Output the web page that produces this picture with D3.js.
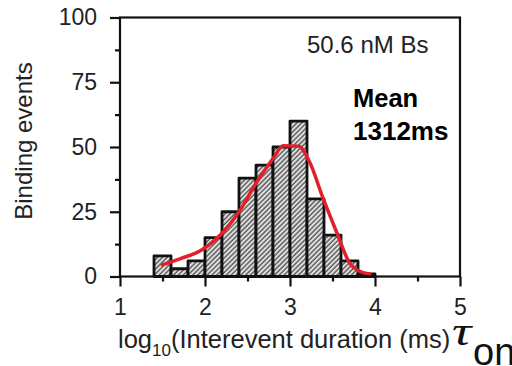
<!DOCTYPE html>
<html>
<head>
<meta charset="utf-8">
<script src="https://cdn.jsdelivr.net/npm/d3@7"></script>
<style>
  body { margin: 0; background: #fff; }
  svg { display: block; font-family: "Liberation Sans", Arial, sans-serif; }
</style>
</head>
<body>
<svg id="chart" width="512" height="366"></svg>
<script>
// histogram bins (left edge, log10 ms) and counts
let binStarts = [1.4, 1.6, 1.8, 2.0, 2.2, 2.4, 2.6, 2.8, 3.0, 3.2, 3.4, 3.6, 3.8];
let binCounts = [8, 3, 6, 15, 25, 38, 43, 50, 60, 30, 16, 6, 1];
let binWidth = 0.2;

// red fitted curve
let fitX = [1.50, 1.72, 1.95, 2.18, 2.40, 2.60, 2.80, 2.92, 3.10, 3.24, 3.38, 3.55, 3.70, 3.82, 3.94];
let fitY = [4.5, 7, 10, 16, 25, 36, 45.5, 50.5, 50.3, 43.5, 31, 17, 5.3, 2, 1];

let xTicks = [1, 2, 3, 4, 5];
let xMinorTicks = [1.5, 2.5, 3.5, 4.5];
let yTicks = [0, 25, 50, 75, 100];
let yMinorTicks = [12.5, 37.5, 62.5, 87.5];

let plotLeft = 120, plotRight = 460, plotTop = 17.5, plotBottom = 276.5;

let svg = d3.select("#chart");

let xScale = d3.scaleLinear().domain([1, 5]).range([plotLeft, plotRight]);
let yScale = d3.scaleLinear().domain([0, 100]).range([plotBottom, plotTop]);

// hatch pattern for bars
let pattern = svg.append("defs").append("pattern")
  .attr("id", "hatch")
  .attr("patternUnits", "userSpaceOnUse")
  .attr("width", 3.4)
  .attr("height", 3.4)
  .attr("patternTransform", "rotate(45)");
pattern.append("rect").attr("width", 3.4).attr("height", 3.4).attr("fill", "#e0e0e0");
pattern.append("line")
  .attr("x1", 1).attr("y1", 0).attr("x2", 1).attr("y2", 3.4)
  .attr("stroke", "#333").attr("stroke-width", 1.1);

let bins = binStarts.map((s, i) => ({start: s, count: binCounts[i]}));

svg.append("g").selectAll("rect").data(bins).enter().append("rect")
  .attr("x", d => xScale(d.start))
  .attr("y", d => yScale(d.count))
  .attr("width", d => xScale(d.start + binWidth) - xScale(d.start))
  .attr("height", d => yScale(0) - yScale(d.count))
  .attr("fill", "url(#hatch)")
  .attr("stroke", "#111")
  .attr("stroke-width", 2.8)
  .attr("stroke-linejoin", "round");

let fit = fitX.map((x, i) => [x, fitY[i]]);
let line = d3.line()
  .x(d => xScale(d[0]))
  .y(d => yScale(d[1]))
  .curve(d3.curveMonotoneX);

svg.append("path")
  .datum(fit)
  .attr("d", line)
  .attr("fill", "none")
  .attr("stroke", "#e3202a")
  .attr("stroke-width", 3.5)
  .attr("stroke-linejoin", "round")
  .attr("stroke-linecap", "round");

// frame
svg.append("rect")
  .attr("x", plotLeft).attr("y", plotTop)
  .attr("width", plotRight - plotLeft).attr("height", plotBottom - plotTop)
  .attr("fill", "none")
  .attr("stroke", "#111")
  .attr("stroke-width", 2.2);

function styleAxis(g) {
  g.select(".domain").remove();
  g.selectAll(".tick line").attr("stroke", "#111").attr("stroke-width", 2.2);
  g.selectAll(".tick text")
    .attr("fill", "#222")
    .style("font-size", "23px")
    .style("font-family", "'Liberation Sans', Arial, sans-serif");
}

let yAxis = d3.axisLeft(yScale).tickValues(yTicks).tickFormat(d3.format("d"))
  .tickSizeInner(10).tickSizeOuter(0).tickPadding(13);
svg.append("g").attr("transform", "translate(" + plotLeft + ",0)").call(yAxis).call(styleAxis);

let yMinor = d3.axisLeft(yScale).tickValues(yMinorTicks).tickSize(5).tickFormat("");
svg.append("g").attr("transform", "translate(" + plotLeft + ",0)").call(yMinor).call(styleAxis);

let xAxis = d3.axisBottom(xScale).tickValues(xTicks).tickFormat(d3.format("d"))
  .tickSizeInner(10).tickSizeOuter(0).tickPadding(12.5);
svg.append("g").attr("transform", "translate(0," + plotBottom + ")").call(xAxis).call(styleAxis);

let xMinor = d3.axisBottom(xScale).tickValues(xMinorTicks).tickSize(5).tickFormat("");
svg.append("g").attr("transform", "translate(0," + plotBottom + ")").call(xMinor).call(styleAxis);

// axis titles
svg.append("text")
  .attr("transform", "translate(32,141) rotate(-90)")
  .attr("text-anchor", "middle")
  .attr("fill", "#222")
  .style("font-size", "24px")
  .text("Binding events");

let xTitle = svg.append("text")
  .attr("x", 118).attr("y", 348)
  .attr("fill", "#222")
  .style("font-size", "25.5px");
xTitle.append("tspan").text("log");
xTitle.append("tspan").attr("dy", 8).style("font-size", "17px").text("10");
xTitle.append("tspan").attr("dy", -8).text("(Interevent duration (ms)");

// tau_on
svg.append("text")
  .attr("transform", "translate(452,345) scale(1.35,1)")
  .attr("fill", "#111")
  .style("font-family", "'Liberation Serif', 'DejaVu Serif', serif")
  .style("font-style", "italic")
  .style("font-size", "40px")
  .text("τ");
svg.append("text")
  .attr("x", 473).attr("y", 365)
  .attr("fill", "#111")
  .style("font-size", "38px")
  .text("on");

// annotations
svg.append("text")
  .attr("x", 307).attr("y", 53)
  .attr("fill", "#222")
  .style("font-size", "24px")
  .text("50.6 nM Bs");
svg.append("text")
  .attr("x", 353).attr("y", 107)
  .attr("fill", "#000")
  .style("font-size", "25.5px")
  .style("font-weight", "bold")
  .text("Mean");
svg.append("text")
  .attr("x", 353).attr("y", 140)
  .attr("fill", "#000")
  .style("font-size", "26px")
  .style("font-weight", "bold")
  .text("1312ms");
</script>
</body>
</html>
